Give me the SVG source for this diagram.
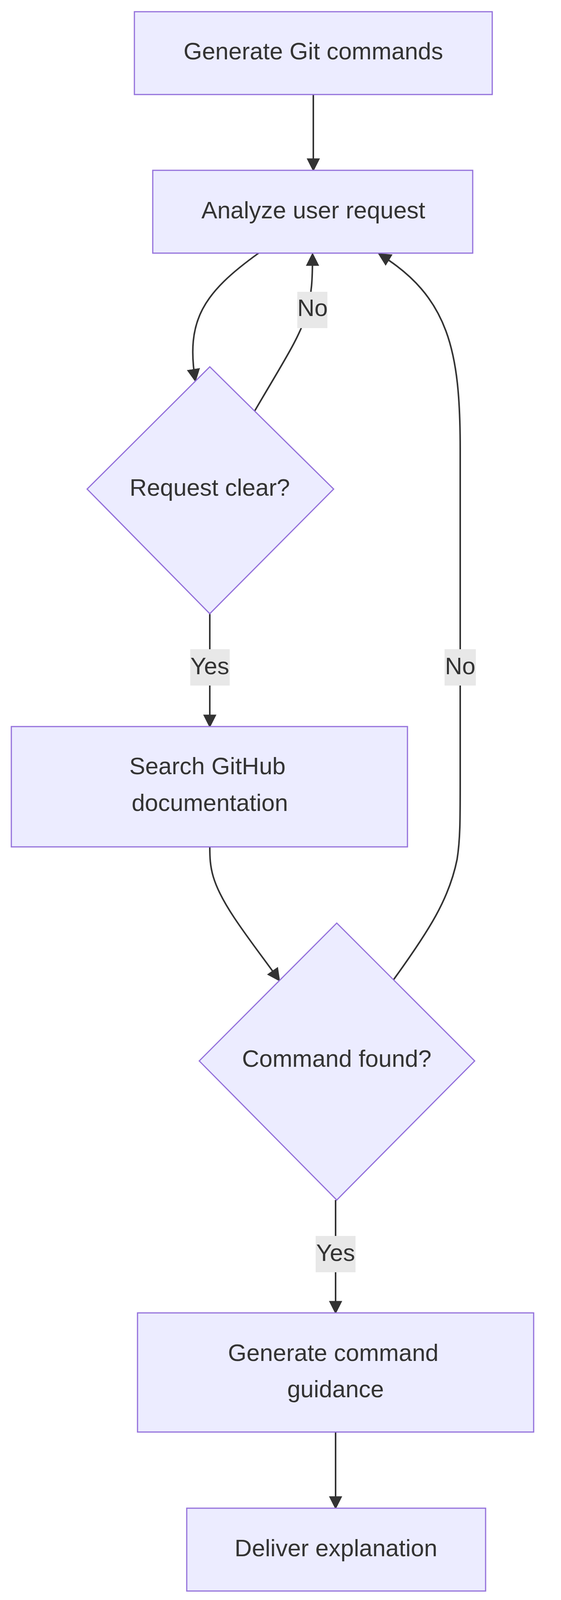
<svg xmlns="http://www.w3.org/2000/svg" width="1436" height="4196" viewBox="0 0 1436 4196">
<style>
.n{fill:#ECECFF;stroke:#9370DB;stroke-width:3}
.t{font-family:"Liberation Sans",Arial,sans-serif;font-size:61px;fill:#333;text-anchor:middle;dominant-baseline:central}
.e{fill:none;stroke:#333;stroke-width:4}
.lb{fill:#e8e8e8}
</style>
<defs>
<marker id="a" markerUnits="userSpaceOnUse" markerWidth="34" markerHeight="34" viewBox="0 0 10 10" refX="9" refY="5" orient="auto">
<path d="M0,0 L10,5 L0,10 z" fill="#333"/>
</marker>
</defs>
<g id="edges">
<path class="e" marker-end="url(#a)" d="M802,242 L802,436"/>
<path class="e" marker-end="url(#a)" d="M662,648 C520,750 475,820 500,975"/>
<path class="e" marker-end="url(#a)" d="M652,1052 C720,935 770,860 785,800 C798,750 800,720 800,650"/>
<path class="e" marker-end="url(#a)" d="M1006,2510 C1100,2380 1150,2300 1170,2200 C1178,2150 1178,2100 1178,2000 L1178,1150 C1178,900 1150,760 970,650"/>
<path class="e" marker-end="url(#a)" d="M537,1571 L537,1860"/>
<path class="e" marker-end="url(#a)" d="M537,2168 C537,2220 540,2260 600,2350 C640,2410 680,2460 715,2510"/>
<path class="e" marker-end="url(#a)" d="M859,3072 L859,3361"/>
<path class="e" marker-end="url(#a)" d="M859,3666 L859,3861"/>
<rect class="lb" x="761" y="747" width="77" height="93"/><text class="t" x="800" y="788">No</text>
<rect class="lb" x="487" y="1662" width="101" height="93"/><text class="t" x="537" y="1705">Yes</text>
<rect class="lb" x="1138" y="1662" width="80" height="93"/><text class="t" x="1178" y="1705">No</text>
<rect class="lb" x="808" y="3164" width="102" height="93"/><text class="t" x="859" y="3207">Yes</text>
</g>
<g id="n1"><rect class="n" x="344" y="30" width="916" height="212"/><text class="t" x="802" y="131">Generate Git commands</text></g>
<g id="n2"><rect class="n" x="391" y="436" width="819" height="212"/><text class="t" x="802" y="538">Analyze user request</text></g>
<g id="n3"><polygon class="n" points="537,939 854,1252 537,1571 223,1252"/><text class="t" x="537" y="1248">Request clear?</text></g>
<g id="n4"><rect class="n" x="29" y="1860" width="1014" height="308"/><text class="t" x="531" y="1961">Search GitHub</text><text class="t" x="537" y="2055">documentation</text></g>
<g id="n5"><polygon class="n" points="862,2363 1215,2716 862,3072 510,2716"/><text class="t" x="862" y="2710">Command found?</text></g>
<g id="n6"><rect class="n" x="352" y="3361" width="1014" height="305"/><text class="t" x="853" y="3463">Generate command</text><text class="t" x="859" y="3556">guidance</text></g>
<g id="n7"><rect class="n" x="478" y="3861" width="765" height="212"/><text class="t" x="860" y="3963">Deliver explanation</text></g>
</svg>
